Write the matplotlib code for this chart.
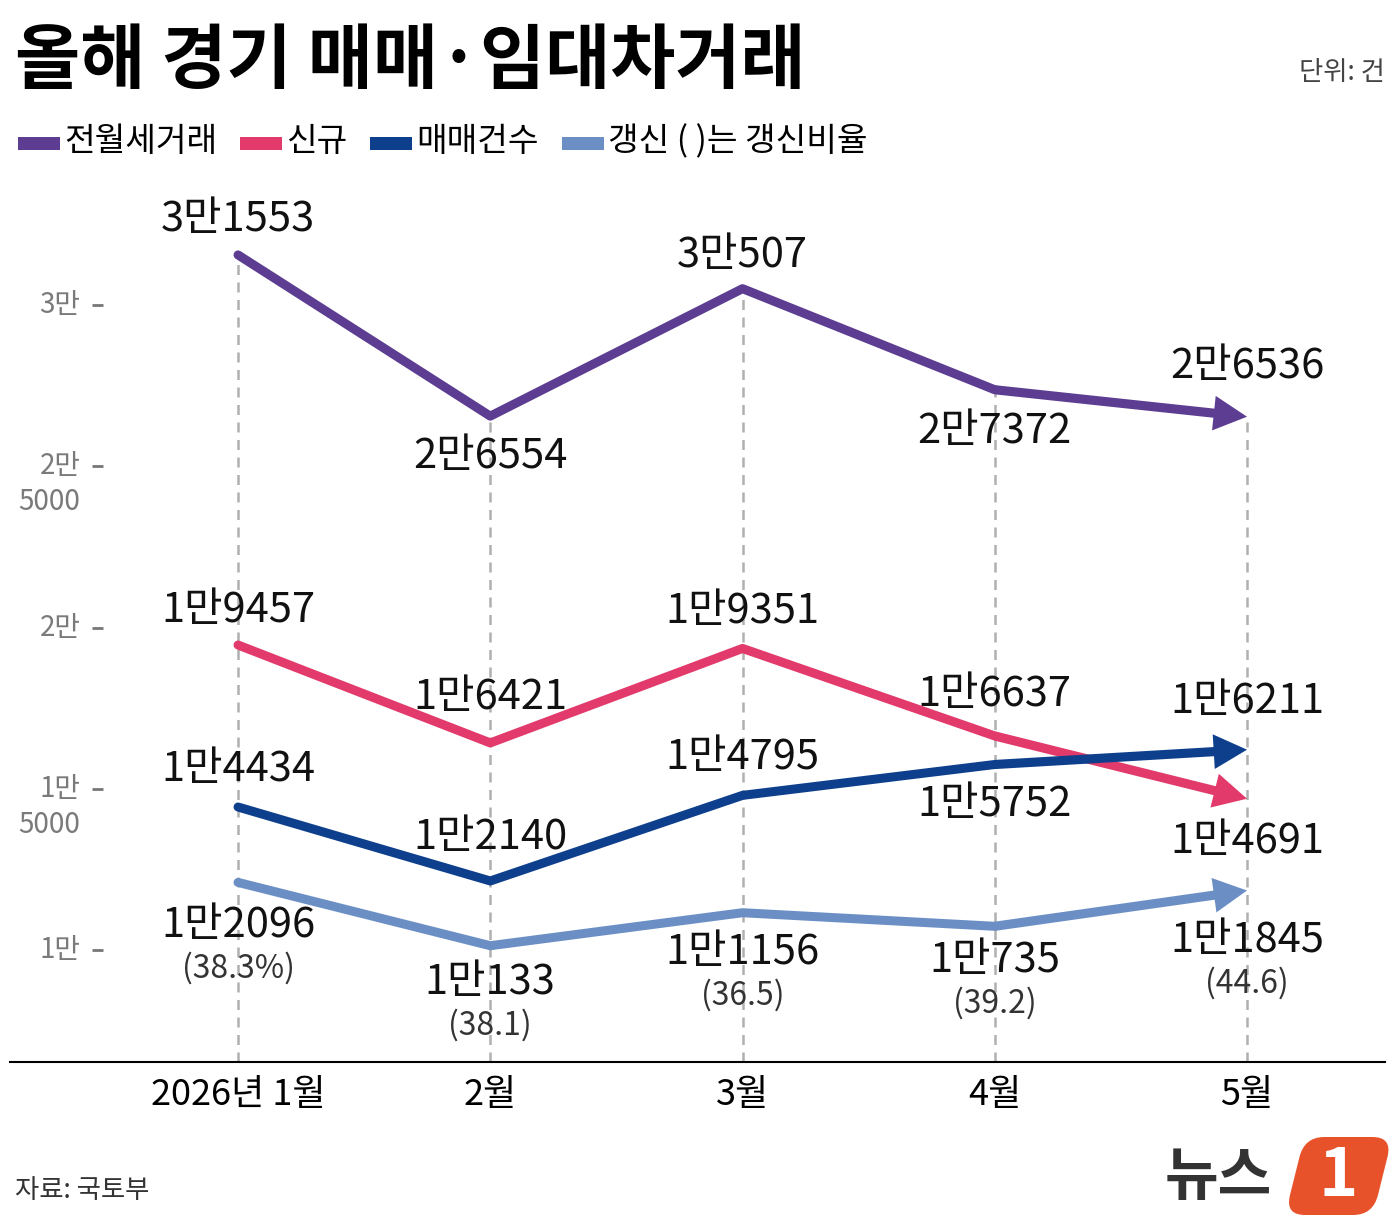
import matplotlib
matplotlib.use('Agg')
import matplotlib.pyplot as plt
from matplotlib.patches import FancyArrowPatch, FancyBboxPatch, Rectangle, ArrowStyle
from matplotlib.transforms import Affine2D

plt.rcParams['font.family'] = ['Noto Sans CJK KR', 'DejaVu Sans']

# data
months = ['2026년 1월', '2월', '3월', '4월', '5월']
jeonwolse = [31553, 26554, 30507, 27372, 26536]
singyu = [19457, 16421, 19351, 16637, 14691]
maemae = [14434, 12140, 14795, 15752, 16211]
gaengsin = [12096, 10133, 11156, 10735, 11845]
gaengsin_ratio = [38.3, 38.1, 36.5, 39.2, 44.6]
yticks = [10000, 15000, 20000, 25000, 30000]
legend_names = ['전월세거래', '신규', '매매건수', '갱신 ( )는 갱신비율']
colors = ['#5c3d91', '#e23a6a', '#0e3f8c', '#6b8fc5']

series = [jeonwolse, singyu, maemae, gaengsin]
# label offsets in pixels (+ above the point, - below)
offsets = [
  [35, -40, 33, -42, 50],
  [35, 45, 37, 41, -43],
  [38, 43, 38, -40, 48],
  [-43, -37, -40, -34, -50],
]

W, H = 1400, 1223

def px(x, y):
  return x / W, 1 - y / H

def man(v):
  return f'{v // 10000}만{v % 10000}' if v % 10000 else f'{v // 10000}만'

fig = plt.figure(figsize=(W / 100, H / 100), dpi=100)
ax = fig.add_axes([10 / W, (H - 1062) / H, 1375 / W, (1062 - 200) / H])
x = list(range(len(months)))
ymin, ymax = 6527, 33256
ax.set_xlim(-0.904, 4.547)
ax.set_ylim(ymin, ymax)
for s in ['top', 'right', 'left']:
  ax.spines[s].set_visible(False)
ax.spines['bottom'].set_linewidth(1.5)
ax.set_yticks([])
ax.set_xticks(x, months, fontsize=26, fontweight='medium')
ax.tick_params(axis='x', length=0, pad=11)

# dashed guides
ax.vlines(x, ymin, jeonwolse, colors='#b0b0b0', linestyles=(0, (4, 3)), lw=1.8, zorder=1)

# y ticks drawn inside
ax.hlines(yticks, -0.58, -0.535, colors='#777777', lw=2)
for t in yticks:
  ax.text(-0.625, t, f'{t // 10000}만', ha='right', va='center', fontsize=20, color='#7a7a7a')
  if t % 10000:
    ax.annotate(str(t % 10000), (-0.625, t), xytext=(0, -36), textcoords='offset pixels',
                ha='right', va='center', fontsize=20, color='#7a7a7a')

for vals, c, offs in zip(series, colors, offsets):
  ax.plot(x[:4], vals[:4], color=c, lw=6.5, solid_capstyle='round', solid_joinstyle='round', zorder=3)
  arr = FancyArrowPatch((x[3], vals[3]), (x[4], vals[4]),
                        arrowstyle=ArrowStyle.Simple(head_length=1.2, head_width=1.25, tail_width=0.33),
                        mutation_scale=20, facecolor=c, edgecolor='none', shrinkA=0, shrinkB=0, zorder=3)
  ax.add_patch(arr)
  for i, v in enumerate(vals):
    ax.annotate(man(v), (x[i], v), xytext=(0, offs[i]), textcoords='offset pixels',
                ha='center', va='center', fontsize=30, fontweight='medium', color='#111111', zorder=4)

for i, r in enumerate(gaengsin_ratio):
  txt = f'({r}%)' if i == 0 else f'({r})'
  ax.annotate(txt, (x[i], gaengsin[i]), xytext=(0, offsets[3][i] - 43), textcoords='offset pixels',
              ha='center', va='center', fontsize=23, color='#333333', zorder=4)

# title, unit, legend
fig.text(*px(15, 62), '올해 경기 매매·임대차거래', fontsize=51, fontweight='bold', va='center', ha='left')
fig.text(*px(1385, 72), '단위: 건', fontsize=19, color='#444444', va='center', ha='right')

leg_x = [18, 240, 370, 562]
for lx, name, c in zip(leg_x, legend_names, colors):
  fig.patches.append(Rectangle(px(lx, 150), 42 / W, 13 / H, transform=fig.transFigure, facecolor=c, edgecolor='none'))
  fig.text(*px(lx + 46, 142), name, fontsize=24, fontweight='medium', va='center', ha='left')

# source and logo
fig.text(*px(15, 1190), '자료: 국토부', fontsize=19, color='#333333', va='center', ha='left')
fig.text(*px(1218, 1178), '뉴스', fontsize=42, fontweight='bold', color='#333333', va='center', ha='center')
logo = FancyBboxPatch((0, 0), 88, 78, boxstyle='round,pad=0,rounding_size=20',
                      transform=Affine2D().skew_deg(14, 0).translate(1285, H - 1215),
                      facecolor='#e8522a', edgecolor='none')
fig.patches.append(logo)
fig.text(*px(1338, 1176), '1', fontsize=48, fontweight='bold', color='white', va='center', ha='center')

fig.savefig('out.png', dpi=100)
